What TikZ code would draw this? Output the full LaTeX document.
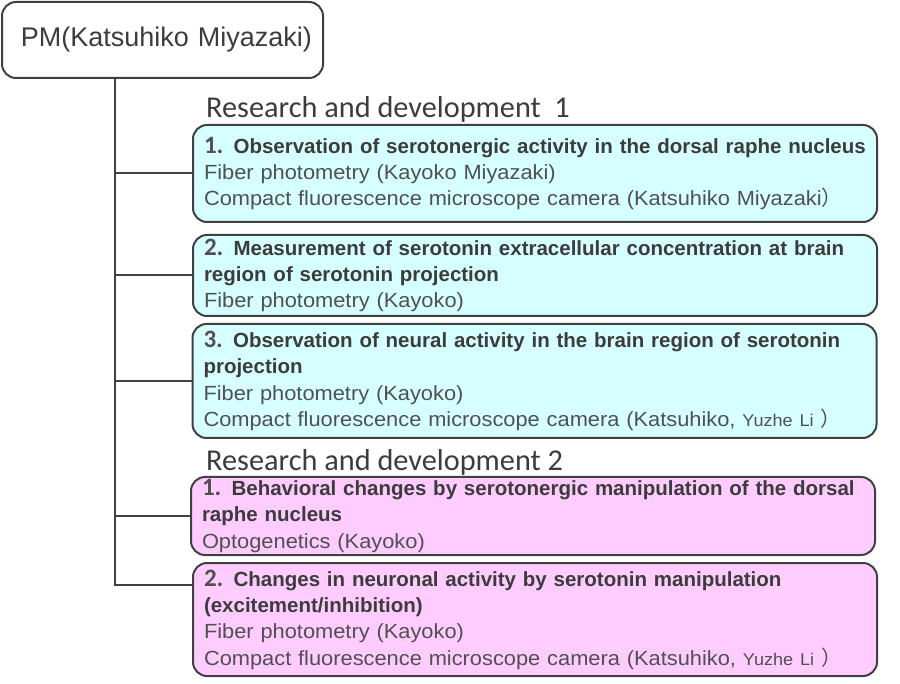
\documentclass[tikz,border=0pt]{standalone}
\usepackage{fontspec}
\setmainfont{Liberation Sans}
\newfontfamily\bodyfont[FakeStretch=1.065]{Liberation Sans}
\newfontfamily\ttlfont{Liberation Sans}
\newfontfamily\calfont{Carlito}
\newfontfamily\cjkfont{Noto Sans CJK SC}
\definecolor{boxline}{HTML}{404040}
\definecolor{titlegrey}{HTML}{3C3C3C}
\definecolor{bodygrey}{HTML}{505050}
\definecolor{rdcyan}{HTML}{D6FFFF}
\definecolor{rdpink}{HTML}{FFCCFF}
% number and title of a task
\newcommand{\tnum}[1]{{\calfont\bfseries\fontsize{25}{26}\selectfont #1}}
\newcommand{\ttl}[1]{{\ttlfont\bfseries\color{titlegrey}#1}}
\newcommand{\namesm}[1]{{\fontsize{17}{26}\selectfont #1}}
\newcommand{\fwclose}{{\cjkfont ）}}
\begin{document}
\begin{tikzpicture}[x=1pt,y=-1pt,
  pmbox/.style={draw=boxline,line width=2pt,rounded corners=14pt,minimum width=321pt,minimum height=76pt,
    text width=299pt,inner xsep=11pt,align=right,font=\fontsize{27}{30}\selectfont,text=titlegrey},
  heading/.style={font=\calfont\fontsize{30.3}{31}\selectfont,text=titlegrey,inner sep=0pt},
  taskbox/.style={draw=boxline,line width=2pt,rounded corners=14pt,text width=662pt,inner xsep=11pt,
    inner ysep=0pt,align=left,font=\bodyfont\fontsize{20.5}{26.3}\selectfont,text=bodygrey},
  branch/.style={draw=boxline,line width=2pt}]
\useasboundingbox (0,0) rectangle (900,684);
\node[pmbox] (pm) at (162.5,40) {PM(Katsuhiko Miyazaki)};
\coordinate (trunk) at (115,0);
% research and development 1
\node[heading,anchor=base west] (rd1) at (206,118) {Research and development\ \ 1};
\node[taskbox,fill=rdcyan,minimum height=97pt] (t11) at (535,173.5) {\tnum{1.} \ttl{Observation of serotonergic activity in the dorsal raphe nucleus}\\
Fiber photometry (Kayoko Miyazaki)\\
Compact fluorescence microscope camera (Katsuhiko Miyazaki\fwclose};
\node[taskbox,fill=rdcyan,minimum height=81pt] (t12) at (535,275.5) {\tnum{2.} \ttl{Measurement of serotonin extracellular concentration at brain}\\
\ttl{region of serotonin projection}\\
Fiber photometry (Kayoko)};
\node[taskbox,fill=rdcyan,minimum height=114pt] (t13) at (534.5,381) {\tnum{3.} \ttl{Observation of neural activity in the brain region of serotonin}\\
\ttl{projection}\\
Fiber photometry (Kayoko)\\
Compact fluorescence microscope camera (Katsuhiko, \namesm{Yuzhe Li} \fwclose};
% research and development 2
\node[heading,anchor=base west] (rd2) at (206,471) {Research and development 2};
\node[taskbox,fill=rdpink,minimum height=78pt] (t21) at (533,516) {\tnum{1.} \ttl{Behavioral changes by serotonergic manipulation of the dorsal}\\
\ttl{raphe nucleus}\\
Optogenetics (Kayoko)};
\node[taskbox,fill=rdpink,minimum height=113pt] (t22) at (535,619.5) {\tnum{2.} \ttl{Changes in neuronal activity by serotonin manipulation}\\
\ttl{(excitement/inhibition)}\\
Fiber photometry (Kayoko)\\
Compact fluorescence microscope camera (Katsuhiko, \namesm{Yuzhe Li} \fwclose};
% tree lines
\coordinate (t22in) at ([yshift=34.5pt]t22.west);
\draw[branch] (pm.south -| trunk) |- (t22in);
\foreach \b in {t11,t12,t13,t21}
  \draw[branch] (trunk |- \b.west) -- (\b.west);
\end{tikzpicture}
\end{document}
